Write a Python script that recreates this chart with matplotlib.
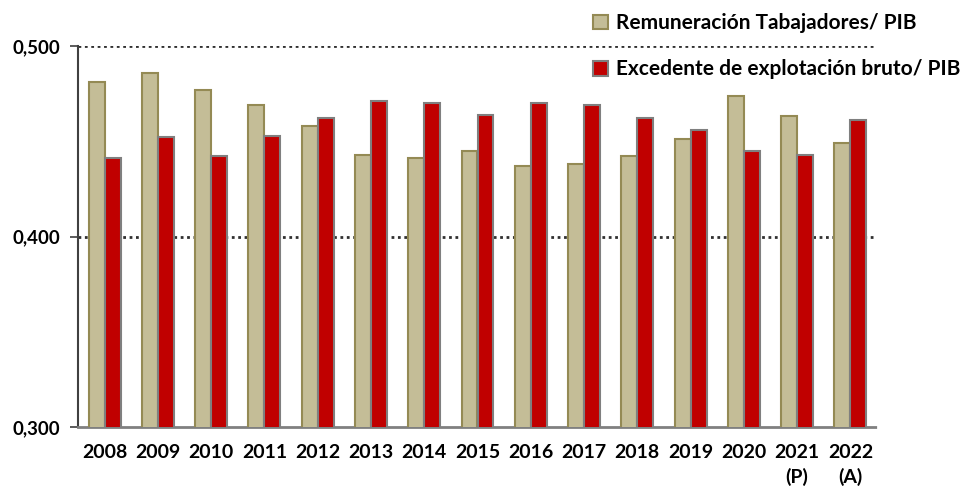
import numpy as np
import matplotlib
matplotlib.use('Agg')
import matplotlib.pyplot as plt
from matplotlib.patches import Patch

plt.rcParams['font.family'] = ['Lato', 'DejaVu Sans']

years = ['2008', '2009', '2010', '2011', '2012', '2013', '2014', '2015',
         '2016', '2017', '2018', '2019', '2020', '2021\n(P)', '2022\n(A)']
remuneracion = [0.481, 0.486, 0.477, 0.469, 0.458, 0.443, 0.441, 0.445,
                0.437, 0.438, 0.442, 0.451, 0.474, 0.463, 0.449]
excedente = [0.441, 0.452, 0.442, 0.453, 0.462, 0.471, 0.470, 0.464,
             0.470, 0.469, 0.462, 0.456, 0.445, 0.443, 0.461]

tan = '#C4BD97'
tan_edge = '#948A54'
red = '#C00000'
red_edge = '#7F7F7F'

fig = plt.figure(figsize=(9.67, 4.86), dpi=100)
ax = fig.add_axes([78/967, 1 - 427/486, (877-78)/967, (427-46)/486])

x = np.arange(len(years))
w = 0.3
ax.bar(x - w/2, remuneracion, w, bottom=0, color=tan, edgecolor=tan_edge, linewidth=1.5, zorder=3)
ax.bar(x + w/2, excedente, w, bottom=0, color=red, edgecolor=red_edge, linewidth=1.5, zorder=3)

ax.set_xlim(-0.5, len(years) - 0.5)
ax.set_ylim(0.300, 0.500)
ax.set_yticks([0.300, 0.400, 0.500])
ax.set_yticklabels(['0,300', '0,400', '0,500'], fontsize=13.5, fontweight='bold')
ax.set_xticks(x)
ax.set_xticklabels(years, fontsize=14, fontweight='bold', linespacing=1.45)
ax.tick_params(axis='x', length=0, pad=12)
ax.tick_params(axis='y', length=6, width=1.2, color='#404040', pad=7)

for v in [0.400, 0.500]:
    ax.axhline(v, color='#303030', linestyle=(0, (1.0, 1.3)), linewidth=2.0, zorder=1)

for s in ['top', 'right']:
    ax.spines[s].set_visible(False)
ax.spines['left'].set_color('#404040')
ax.spines['left'].set_linewidth(1.5)
ax.spines['bottom'].set_color('#808080')
ax.spines['bottom'].set_linestyle((0, (1.0, 1.0)))
ax.spines['bottom'].set_linewidth(2)

handles = [Patch(facecolor=tan, edgecolor=tan_edge, linewidth=1.5),
           Patch(facecolor=red, edgecolor=red_edge, linewidth=1.5)]
labels = ['Remuneración Tabajadores/ PIB', 'Excedente de explotación bruto/ PIB']
leg = fig.legend(handles, labels, loc='upper left', bbox_to_anchor=(585/967, 1 - 5/486),
                 frameon=False, handlelength=0.72, handleheight=0.72, handletextpad=0.35,
                 labelspacing=1.25, borderaxespad=0,
                 prop={'size': 15, 'weight': 'bold'})

fig.savefig('out.png', dpi=100)
